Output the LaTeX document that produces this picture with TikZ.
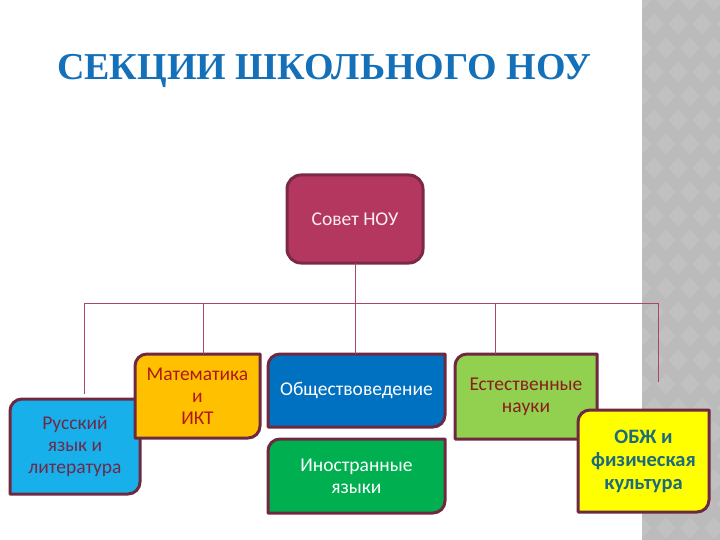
\documentclass[tikz,border=0pt]{standalone}
\usepackage{fontspec}
\setmainfont{Carlito}
\newfontfamily\titlefont{Liberation Serif}
\definecolor{titleblue}{HTML}{1470B8}
\definecolor{sovetfill}{HTML}{B3375F}
\definecolor{sovetborder}{HTML}{7A2A48}
\definecolor{sovettext}{HTML}{FBEFF4}
\definecolor{boxborder}{HTML}{6E2840}
\definecolor{linecol}{HTML}{A8476A}
\definecolor{rusfill}{HTML}{17B0EA}
\definecolor{mathfill}{HTML}{FFC000}
\definecolor{obshfill}{HTML}{0070C0}
\definecolor{inofill}{HTML}{00B050}
\definecolor{estfill}{HTML}{92D050}
\definecolor{obzhfill}{HTML}{FFFF00}
\definecolor{rustext}{HTML}{6E2A4A}
\definecolor{mathtext}{HTML}{B01818}
\definecolor{esttext}{HTML}{8A1E1E}
\definecolor{obzhtext}{HTML}{1C6A7E}
\definecolor{stripe}{HTML}{BBBBBB}
\definecolor{stripelight}{HTML}{C1C1C1}
\tikzset{
  boxtext/.style={align=center, inner sep=0pt, font=\fontsize{19.5}{22}\selectfont},
  boldtext/.style={align=center, inner sep=0pt, font=\bfseries\fontsize{20.5}{23}\selectfont},
  connector/.style={draw=linecol, line width=1pt},
}
% #1 name, #2 x1, #3 y1, #4 x2, #5 y2, #6 fill, #7 text style, #8 text
\newcommand\secbox[8]{%
  \filldraw[fill=#6, draw=boxborder, line width=3pt, line join=round]
    (#2,#5) -- (#2,#3+12) arc[start angle=180,end angle=90,radius=12pt]
    -- (#4,#3) -- (#4,#5-12) arc[start angle=0,end angle=-90,radius=12pt] -- cycle;
  \node[#7, minimum width={(#4-#2)*1pt}, minimum height={(#5-#3)*1pt}]
    (#1) at ({(#2+#4)/2},{(#3+#5)/2}) {#8};
}
\begin{document}
\begin{tikzpicture}[x=1pt,y=-1pt]
\useasboundingbox (0,0) rectangle (720,540);
% gray stripe
\fill[stripe] (642,0) rectangle (720,540);
\begin{scope}
\clip (642,0) rectangle (720,540);
\foreach \i in {0,...,4} {
  \foreach \j in {0,...,23} {
    \pgfmathsetmacro\cx{642+\i*24+mod(\j,2)*12}
    \pgfmathsetmacro\cy{\j*24}
    \fill[stripelight] (\cx,\cy-10) -- (\cx+10,\cy) -- (\cx,\cy+10) -- (\cx-10,\cy) -- cycle;
  }
}
\end{scope}
% title
\node[anchor=base west, inner sep=0pt, text=titleblue, font=\titlefont\bfseries\fontsize{38}{40}\selectfont]
  (title) at (57,80) {СЕКЦИИ ШКОЛЬНОГО НОУ};
% root
\filldraw[fill=sovetfill, draw=sovetborder, line width=3pt, rounded corners=14pt]
  (287,175) rectangle (423,263);
\node[boxtext, text=sovettext, minimum width=136pt, minimum height=88pt] (sovet) at (355,219) {Совет НОУ};
% bus
\coordinate (bus) at (355,303);
\coordinate (busL) at (84,303);
\coordinate (busR) at (658,303);
\coordinate (busM) at (203,303);
\coordinate (busE) at (495,303);
% boxes
\secbox{rus}{10}{399}{140}{494}{rusfill}{boxtext, text=rustext}{Русский\\язык и\\литература}
\secbox{math}{135}{354}{260}{438}{mathfill}{boxtext, text=mathtext}{Математика\\и\\ИКТ}
\secbox{obsh}{268}{354}{445}{427}{obshfill}{boxtext, text=white}{Обществоведение}
\secbox{ino}{268}{439}{445}{513}{inofill}{boxtext, text=white}{Иностранные\\языки}
\secbox{est}{455}{354}{597}{439}{estfill}{boxtext, text=esttext}{Естественные\\науки}
\secbox{obzh}{578}{410}{709}{512}{obzhfill}{boldtext, text=obzhtext}{ОБЖ и\\физическая\\культура}
% connectors
\draw[connector] (sovet.south) -- (bus);
\draw[connector] (busL) -- (busR);
\draw[connector] (busL) -- ([yshift=5pt]busL |- rus.north);
\draw[connector] (busM) -- (busM |- math.north);
\draw[connector] (bus) -- (bus |- obsh.north);
\draw[connector] (busE) -- (busE |- est.north);
\draw[connector] (busR) -- ([yshift=28pt]busR |- obzh.north);
\end{tikzpicture}
\end{document}
